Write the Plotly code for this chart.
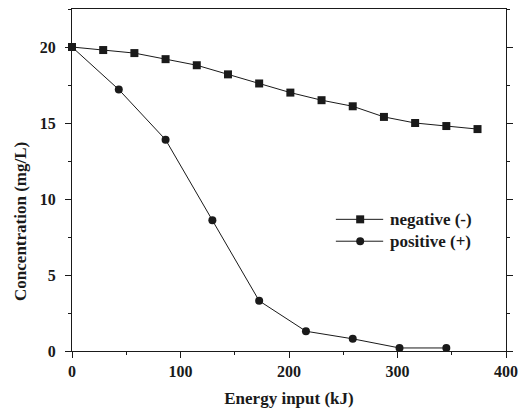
import plotly.graph_objects as go

# Energy input (kJ) and residual concentration (mg/L) for each electrode polarity
neg_energy = [0, 28.75, 57.5, 86.25, 115, 143.75, 172.5, 201.25, 230, 258.75, 287.5, 316.25, 345, 373.75]
neg_conc = [20.0, 19.8, 19.6, 19.2, 18.8, 18.2, 17.6, 17.0, 16.5, 16.1, 15.4, 15.0, 14.8, 14.6]

pos_energy = [0, 43.125, 86.25, 129.375, 172.5, 215.625, 258.75, 301.875, 345]
pos_conc = [20.0, 17.2, 13.9, 8.6, 3.3, 1.3, 0.8, 0.2, 0.2]

series_names = ["negative (-)", "positive (+)"]

FONT = "Liberation Serif, Times New Roman, serif"
INK = "#1a1a1a"

fig = go.Figure()
fig.add_trace(go.Scatter(
    x=pos_energy, y=pos_conc, mode="lines+markers", name=series_names[1],
    line=dict(color=INK, width=1),
    marker=dict(symbol="circle", size=8, color=INK),
    cliponaxis=False, showlegend=False,
))
fig.add_trace(go.Scatter(
    x=neg_energy, y=neg_conc, mode="lines+markers", name=series_names[0],
    line=dict(color=INK, width=1),
    marker=dict(symbol="square", size=8, color=INK),
    cliponaxis=False, showlegend=False,
))

# Legend keys drawn as shapes, with labels as annotations
key_x0, key_x1, key_xm = 0.608, 0.717, 0.664
key_rows = [0.385, 0.321]
shapes = []
annotations = []
for i, (name, yk) in enumerate(zip(series_names, key_rows)):
    shapes.append(dict(type="line", xref="paper", yref="paper",
                       x0=key_x0, x1=key_x1, y0=yk, y1=yk,
                       line=dict(color=INK, width=1)))
    shapes.append(dict(type="rect" if i == 0 else "circle",
                       xref="paper", yref="paper",
                       xsizemode="pixel", ysizemode="pixel",
                       xanchor=key_xm, yanchor=yk,
                       x0=-4, x1=4, y0=-4, y1=4,
                       line=dict(color=INK, width=0), fillcolor=INK))
    annotations.append(dict(xref="paper", yref="paper", x=key_x1 + 0.011, y=yk,
                            xanchor="left", yanchor="middle", showarrow=False,
                            text=name,
                            font=dict(family=FONT, size=17, color=INK, weight="bold")))

# Y-axis title
annotations.append(dict(xref="paper", yref="paper", x=-0.117, y=0.378,
                        xanchor="center", yanchor="middle", showarrow=False,
                        textangle=-90, text="Concentration (mg/L)",
                        font=dict(family=FONT, size=17, color=INK, weight="bold")))

axis_common = dict(
    showline=True, linecolor=INK, linewidth=1,
    showgrid=False, zeroline=False,
    ticks="outside", ticklen=6, tickwidth=1, tickcolor=INK,
    tickfont=dict(family=FONT, size=16, color=INK, weight="bold"),
)

fig.update_xaxes(
    range=[0, 400], tickvals=[0, 100, 200, 300, 400], mirror=True,
    minor=dict(ticks="outside", ticklen=3, tickwidth=1, tickcolor=INK,
               tickvals=[50, 150, 250, 350]),
    title=dict(text="Energy input (kJ)", standoff=12,
               font=dict(family=FONT, size=17, color=INK, weight="bold")),
    **axis_common,
)
fig.update_yaxes(
    range=[0, 22.5], tickvals=[0, 5, 10, 15, 20], mirror="allticks",
    ticklabelstandoff=6,
    minor=dict(ticks="outside", ticklen=3, tickwidth=1, tickcolor=INK,
               tickvals=[2.5, 7.5, 12.5, 17.5, 22.5]),
    **axis_common,
)

fig.update_layout(
    width=526, height=412,
    margin=dict(l=72, r=12, t=8, b=61),
    paper_bgcolor="white", plot_bgcolor="white",
    shapes=shapes, annotations=annotations,
    showlegend=False,
)

fig.write_html("out.html")
